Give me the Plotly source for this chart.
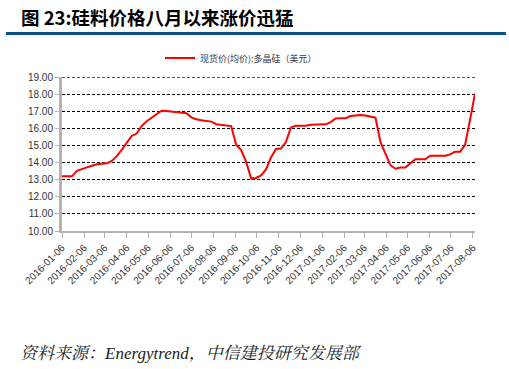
import pandas as pd
import plotly.graph_objects as go

# Weekly dates (Wednesdays) from 2016-01-06
dates = pd.date_range("2016-01-06", periods=84, freq="7D")

# 现货价(均价):多晶硅（美元） -- values
prices = [
    13.20, 13.20, 13.20, 13.52, 13.60, 13.72, 13.82, 13.90, 13.93, 13.96,
    14.10, 14.38, 14.75, 15.13, 15.56, 15.70, 16.14, 16.42, 16.61, 16.82,
    17.04, 17.02, 16.99, 16.96, 16.94, 16.89, 16.65, 16.54, 16.48, 16.46,
    16.40, 16.25, 16.22, 16.20, 16.14, 15.05, 14.73, 14.05, 13.08, 13.10,
    13.25, 13.60, 14.30, 14.80, 14.83, 15.20, 16.06, 16.16, 16.16, 16.16,
    16.21, 16.22, 16.23, 16.24, 16.37, 16.58, 16.60, 16.60, 16.73, 16.77,
    16.79, 16.76, 16.68, 16.63, 15.20, 14.50, 13.85, 13.64, 13.72, 13.72,
    13.95, 14.20, 14.20, 14.20, 14.40, 14.40, 14.40, 14.40, 14.48, 14.64,
    14.64, 15.03, 16.50, 18.05,
]

tick_labels = [
    "2016-01-06", "2016-02-06", "2016-03-06", "2016-04-06", "2016-05-06",
    "2016-06-06", "2016-07-06", "2016-08-06", "2016-09-06", "2016-10-06",
    "2016-11-06", "2016-12-06", "2017-01-06", "2017-02-06", "2017-03-06",
    "2017-04-06", "2017-05-06", "2017-06-06", "2017-07-06", "2017-08-06",
]
y_ticks = [10, 11, 12, 13, 14, 15, 16, 17, 18, 19]

series_name = "现货价(均价):多晶硅（美元）"
title_text = "图 23:硅料价格八月以来涨价迅猛"
source_text = "资料来源：<i>Energytrend</i>，中信建投研究发展部"

W, H = 509, 369
L, R, T, B = 62, 34, 77, 138
PW, PH = W - L - R, H - T - B


def px_x(px):
    return (px - L) / PW


def px_y(py):
    return (H - B - py) / PH


fig = go.Figure()
fig.add_trace(go.Scatter(
    x=dates, y=prices, mode="lines", name=series_name,
    line=dict(color="#FF0000", width=2),
))

fig.update_layout(
    width=W, height=H,
    margin=dict(l=L, r=R, t=T, b=B, pad=0),
    paper_bgcolor="white", plot_bgcolor="white",
    font=dict(family="Liberation Sans, Arial, Noto Sans CJK SC", color="#333333"),
    showlegend=True,
    legend=dict(
        orientation="h", x=px_x(160), xanchor="left", y=px_y(58), yanchor="middle",
        font=dict(size=9, color="#333333", family="Noto Sans CJK SC"),
        bgcolor="rgba(0,0,0,0)", itemwidth=30,
    ),
    xaxis=dict(
        type="date",
        range=["2016-01-06", "2017-08-09"],
        tickvals=tick_labels, ticktext=tick_labels,
        tickangle=-45, tickfont=dict(size=10, color="#333333"),
        showgrid=False, zeroline=False,
        showline=True, linecolor="#B4B4B4", linewidth=2,
        ticks="outside", ticklen=5, tickcolor="#B4B4B4", tickwidth=1,
    ),
    yaxis=dict(
        range=[y_ticks[0], y_ticks[-1] + 0.01], tickvals=y_ticks,
        ticktext=[f"{v:.2f}" for v in y_ticks],
        tickfont=dict(size=10, color="#333333"),
        showgrid=True, gridcolor="#000000", gridwidth=1, griddash="3px,2px",
        zeroline=False,
        showline=True, linecolor="#B4B4B4", linewidth=3,
        ticks="outside", ticklen=4, tickcolor="#B4B4B4", tickwidth=1,
    ),
    shapes=[
        dict(
            type="line", xref="paper", yref="paper",
            x0=px_x(6), x1=px_x(506), y0=px_y(33.5), y1=px_y(33.5),
            line=dict(color="#0B4F83", width=3),
        ),
        # top gridline (plotly drops the gridline at the range edge)
        dict(
            type="line", xref="paper", yref="y", layer="below",
            x0=0, x1=1, y0=y_ticks[-1], y1=y_ticks[-1],
            line=dict(color="#000000", width=1, dash="3px,2px"),
        ),
    ],
    annotations=[
        dict(
            text=f"<b>{title_text}</b>", xref="paper", yref="paper",
            x=px_x(19), y=px_y(17), xanchor="left", yanchor="middle",
            showarrow=False,
            font=dict(size=18.5, color="#000000", family="Noto Sans CJK SC"),
        ),
        dict(
            text=f"<i>{source_text}</i>", xref="paper", yref="paper",
            x=px_x(18), y=px_y(353), xanchor="left", yanchor="middle",
            showarrow=False,
            font=dict(size=17, color="#222222", family="Liberation Serif, Noto Serif CJK SC, Noto Sans CJK SC"),
        ),
    ],
)

fig.write_html(
    "out.html",
    config={"displayModeBar": False},
    post_script="document.body.style.margin='0';",
)
